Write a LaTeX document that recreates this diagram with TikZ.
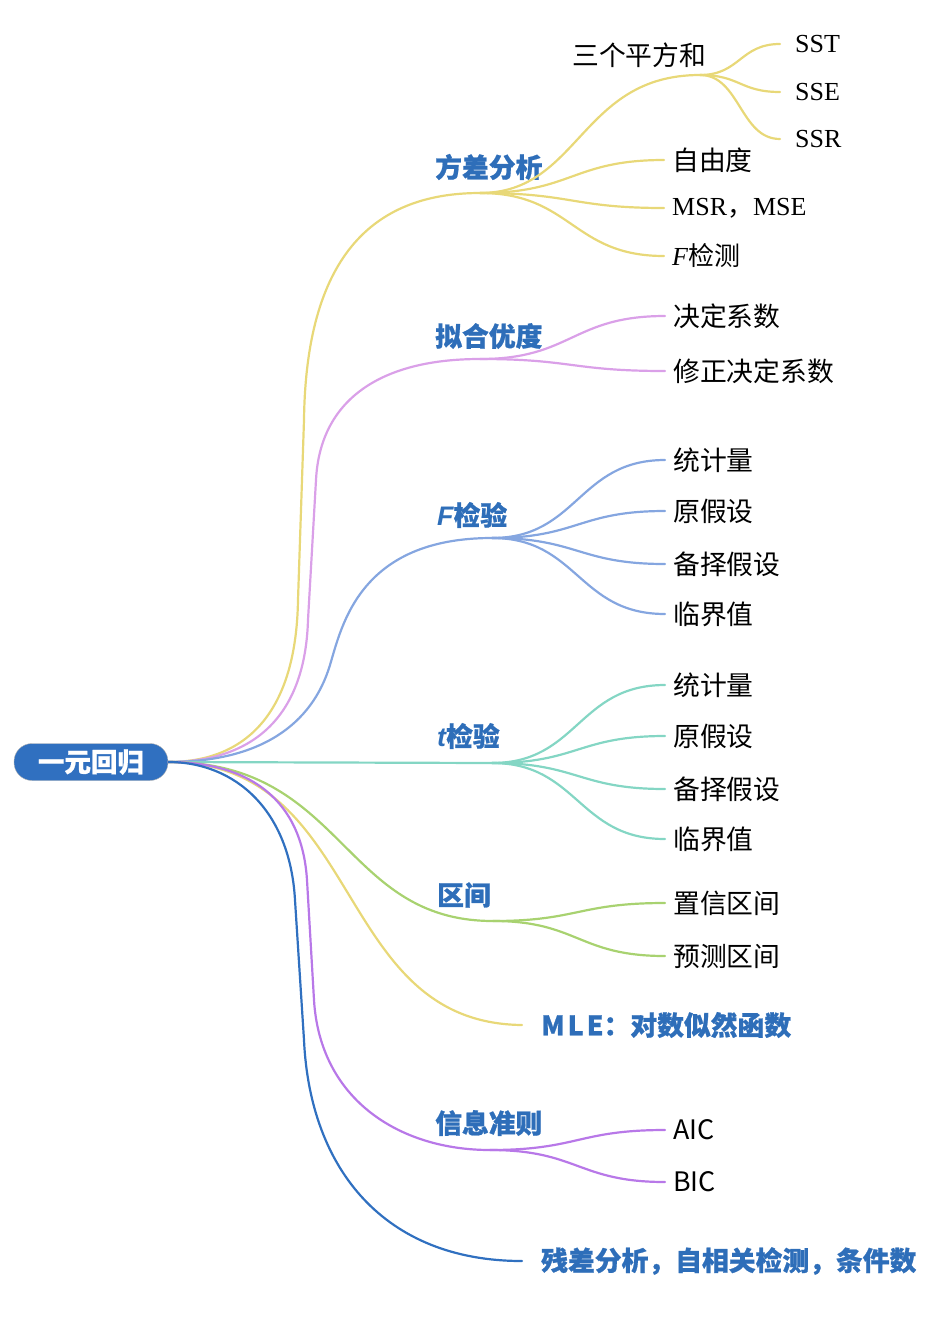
\documentclass[tikz,border=0pt]{standalone}
\usepackage{fontspec}
\setmainfont{Liberation Serif}
\newfontfamily\cjk{Noto Sans CJK SC}
\newfontfamily\cjkh{Noto Sans CJK SC}[BoldFeatures={FakeBold=0.8}]
\newfontfamily\lsans{Liberation Sans}
\usepackage{tikz}
\definecolor{rootblue}{RGB}{48,112,192}
\definecolor{topicblue}{RGB}{46,110,185}
\definecolor{cyellow}{RGB}{232,216,120}
\definecolor{cpink}{RGB}{218,160,232}
\definecolor{cblue}{RGB}{133,166,224}
\definecolor{cteal}{RGB}{132,214,196}
\definecolor{cgreen}{RGB}{168,210,112}
\definecolor{cpurple}{RGB}{184,120,232}
\definecolor{cdark}{RGB}{48,112,192}
\tikzset{
    root/.style = {rounded corners=18pt, fill=rootblue, draw=gray!60, text=white,
        minimum width=154pt, minimum height=37pt, inner sep=0pt,
        font=\cjkh\bfseries\fontsize{26.5}{30}\selectfont},
    topic/.style = {anchor=west, inner sep=0pt, text=topicblue,
        font=\cjkh\bfseries\fontsize{26.8}{30}\selectfont},
    tip/.style = {anchor=west, inner xsep=19pt, inner ysep=0pt, text=topicblue,
        font=\cjkh\bfseries\fontsize{26.8}{30}\selectfont},
    sub/.style = {anchor=west, inner sep=0pt, font=\cjk\fontsize{26.8}{30}\selectfont},
    leaf/.style = {anchor=west, inner xsep=8pt, inner ysep=0pt, font=\cjk\fontsize{26.8}{30}\selectfont},
    serif/.style = {leaf, font=\fontsize{26}{30}\selectfont},
    branch/.style = {line width=2.2pt, line cap=round},
}

\begin{document}
\begin{tikzpicture}[x=1pt,y=-1pt]
    \useasboundingbox (0,0) rectangle (932,1318);
    \node (root) at (91,762) [root] {一元回归};

    % 方差分析
    \coordinate (j1) at (480,193);
    \node (fcfx) at (435,167) [topic] {方差分析};
    \draw[branch,cyellow] (root.east) .. controls (240,762) and (296,720) .. (298,600)
        -- (304,420) .. controls (306,260) and (370,193) .. (j1);
    \coordinate (j11) at (700,75);
    \node (sgpfh) at (572,55) [sub] {三个平方和};
    \draw[branch,cyellow] (j1) .. controls (580,193) and (580,75) .. (j11);
    \node (sst) at (780,44) [serif, inner xsep=15pt] {SST};
    \node (sse) at (780,92) [serif, inner xsep=15pt] {SSE};
    \node (ssr) at (780,139) [serif, inner xsep=15pt] {SSR};
    \draw[branch,cyellow] (j11) .. controls (740,75) and (740,44) .. (sst.west);
    \draw[branch,cyellow] (j11) .. controls (740,75) and (740,92) .. (sse.west);
    \draw[branch,cyellow] (j11) .. controls (740,75) and (740,139) .. (ssr.west);
    \node (zyd) at (664,160) [leaf] {自由度};
    \node (msr) at (664,208) [serif] {MSR{\cjk ，}MSE};
    \node (fjc) at (664,256) [serif] {{\itshape F}{\cjk 检测}};
    \draw[branch,cyellow] (j1) .. controls (572,193) and (572,160) .. (zyd.west);
    \draw[branch,cyellow] (j1) .. controls (572,193) and (572,208) .. (msr.west);
    \draw[branch,cyellow] (j1) .. controls (572,193) and (572,256) .. (fjc.west);

    % 拟合优度
    \coordinate (j2) at (480,359);
    \node (nhyd) at (435,336) [topic] {拟合优度};
    \draw[branch,cpink] (root.east) .. controls (250,762) and (305,720) .. (308,620)
        -- (316,480) .. controls (320,400) and (380,359) .. (j2);
    \node (jdxs) at (665,316) [leaf] {决定系数};
    \node (xzjd) at (665,371) [leaf] {修正决定系数};
    \draw[branch,cpink] (j2) .. controls (572,359) and (572,316) .. (jdxs.west);
    \draw[branch,cpink] (j2) .. controls (572,359) and (572,371) .. (xzjd.west);

    % F检验
    \coordinate (j3) at (492,538);
    \node (fjy) at (437,515) [topic] {{\lsans\itshape F}检验};
    \draw[branch,cblue] (root.east) .. controls (260,762) and (312,725) .. (330,665)
        .. controls (342,625) and (360,538) .. (j3);
    \node (ftjl) at (665,460) [leaf] {统计量};
    \node (fyjs) at (665,511) [leaf] {原假设};
    \node (fbzj) at (665,564) [leaf] {备择假设};
    \node (fljz) at (665,614) [leaf] {临界值};
    \draw[branch,cblue] (j3) .. controls (578,538) and (578,460) .. (ftjl.west);
    \draw[branch,cblue] (j3) .. controls (578,538) and (578,511) .. (fyjs.west);
    \draw[branch,cblue] (j3) .. controls (578,538) and (578,564) .. (fbzj.west);
    \draw[branch,cblue] (j3) .. controls (578,538) and (578,614) .. (fljz.west);

    % t检验
    \coordinate (j4) at (492,763);
    \node (tjy) at (437,736) [topic] {{\lsans\itshape t}检验};
    \draw[branch,cteal] (root.east) -- (j4);
    \node (ttjl) at (665,685) [leaf] {统计量};
    \node (tyjs) at (665,736) [leaf] {原假设};
    \node (tbzj) at (665,789) [leaf] {备择假设};
    \node (tljz) at (665,839) [leaf] {临界值};
    \draw[branch,cteal] (j4) .. controls (578,763) and (578,685) .. (ttjl.west);
    \draw[branch,cteal] (j4) .. controls (578,763) and (578,736) .. (tyjs.west);
    \draw[branch,cteal] (j4) .. controls (578,763) and (578,789) .. (tbzj.west);
    \draw[branch,cteal] (j4) .. controls (578,763) and (578,839) .. (tljz.west);

    % 区间
    \coordinate (j5) at (493,921);
    \node (qj) at (437,895) [topic] {区间};
    \draw[branch,cgreen] (root.east) .. controls (345,762) and (341,921) .. (j5);
    \node (zxqj) at (665,903) [leaf] {置信区间};
    \node (ycqj) at (665,956) [leaf] {预测区间};
    \draw[branch,cgreen] (j5) .. controls (578,921) and (578,903) .. (zxqj.west);
    \draw[branch,cgreen] (j5) .. controls (578,921) and (578,956) .. (ycqj.west);

    % MLE
    \node (mle) at (522,1025) [tip] {M\kern3pt L\kern3pt E：对数似然函数};
    \draw[branch,cyellow] (root.east) .. controls (366,762) and (331,1023) .. (mle.west);

    % 信息准则
    \coordinate (j7) at (490,1150);
    \node (xxzz) at (435,1123) [topic] {信息准则};
    \draw[branch,cpurple] (root.east) .. controls (250,762) and (302,800) .. (307,880)
        -- (314,1000) .. controls (320,1100) and (400,1150) .. (j7);
    \node (aic) at (665,1130) [leaf] {AIC};
    \node (bic) at (665,1182) [leaf] {BIC};
    \draw[branch,cpurple] (j7) .. controls (578,1150) and (578,1130) .. (aic.west);
    \draw[branch,cpurple] (j7) .. controls (578,1150) and (578,1182) .. (bic.west);

    % 残差分析
    \node (ccfx) at (522,1261) [tip] {残差分析，自相关检测，条件数};
    \draw[branch,cdark] (root.east) .. controls (235,762) and (290,810) .. (295,900)
        -- (304,1040) .. controls (310,1170) and (385,1261) .. (ccfx.west);
\end{tikzpicture}
\end{document}
